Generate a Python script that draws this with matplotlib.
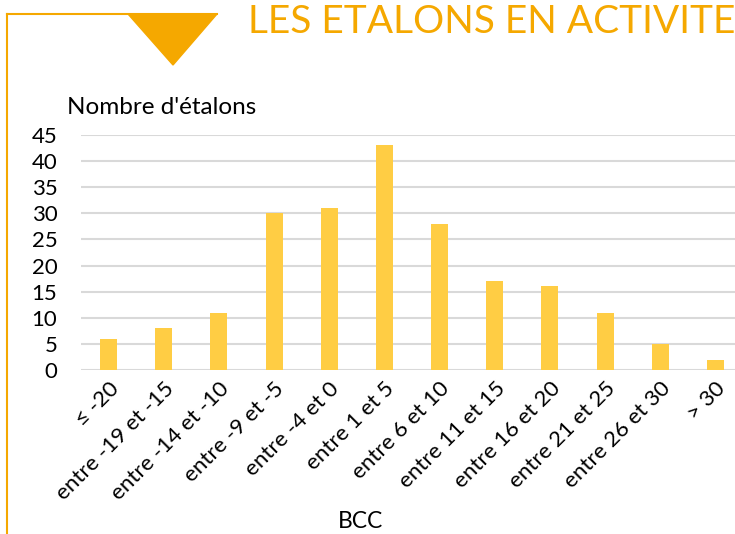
import matplotlib.pyplot as plt
from matplotlib.lines import Line2D
from matplotlib.patches import Polygon

# Données : nombre d'étalons par classe de BCC
categories = ['≤ -20', 'entre -19 et -15', 'entre -14 et -10', 'entre -9 et -5',
              'entre -4 et 0', 'entre 1 et 5', 'entre 6 et 10', 'entre 11 et 15',
              'entre 16 et 20', 'entre 21 et 25', 'entre 26 et 30', '> 30']
nb_etalons = [6, 8, 11, 30, 31, 43, 28, 17, 16, 11, 5, 2]
yticks = [0, 5, 10, 15, 20, 25, 30, 35, 40, 45]

W, H = 735, 534
orange = '#F5A800'
plt.rcParams['font.family'] = ['Lato', 'DejaVu Sans']

fig = plt.figure(figsize=(W / 100, H / 100), dpi=100)


def px(x, y):
    return x / W, 1 - y / H


# Zone du graphique
left, right, top, bottom = 81, 743, 135, 370
ax = fig.add_axes([left / W, 1 - bottom / H, (right - left) / W, (bottom - top) / H])
x = list(range(len(categories)))
ax.bar(x, nb_etalons, width=0.31, color='#FFCD44', zorder=3)
ax.set_xlim(-0.5, len(categories) - 0.5)
ax.set_ylim(0, 45)
ax.set_yticks(yticks)
ax.set_xticks(x)
ax.set_xticklabels(categories, rotation=45, ha='right', va='top',
                   rotation_mode='anchor', fontsize=16)
ax.tick_params(axis='y', labelsize=16, length=0, pad=17)
ax.tick_params(axis='x', length=0, pad=6)
ax.grid(axis='y', color='#D9D9D9', linewidth=1.5, zorder=0)
for s in ax.spines.values():
    s.set_visible(False)

fig.text(*px(67, 108), "Nombre d'étalons", fontsize=17.5, va='center', ha='left')
fig.text(*px(361, 521), 'BCC', fontsize=16.5, va='center', ha='center')

# Décor : cadre, triangle et titre
fig.add_artist(Line2D([px(7, 14)[0], px(217, 14)[0]], [px(7, 14)[1], px(217, 14)[1]],
                      color=orange, linewidth=1.5, transform=fig.transFigure))
fig.add_artist(Line2D([px(7, 14)[0], px(7, 534)[0]], [px(7, 14)[1], px(7, 534)[1]],
                      color=orange, linewidth=1.5, transform=fig.transFigure))
fig.add_artist(Polygon([px(128, 14), px(217, 14), px(173, 65)], closed=True,
                       color=orange, transform=fig.transFigure))
fig.text(*px(248, 33), 'LES ETALONS EN ACTIVITE', fontsize=28, color=orange,
         ha='left', va='baseline')

plt.savefig('out.png', dpi=100)
